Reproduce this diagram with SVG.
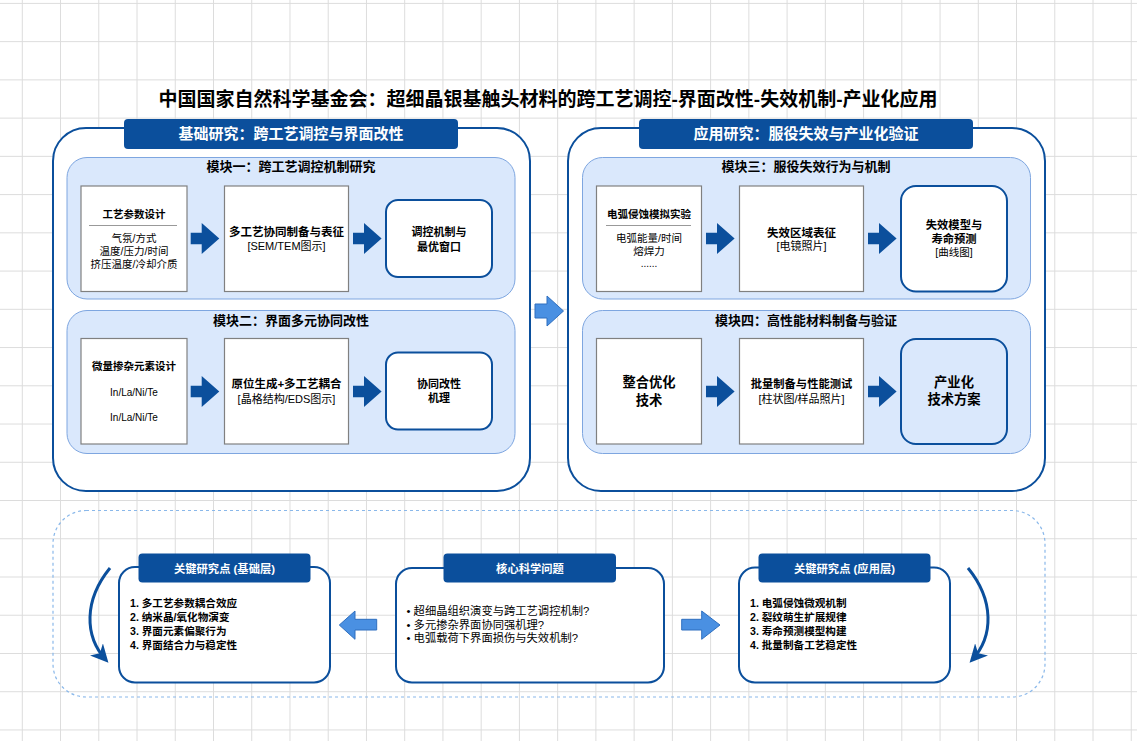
<svg xmlns="http://www.w3.org/2000/svg" width="1137" height="741" viewBox="0 0 1137 741">
<defs>
<pattern id="grid" patternUnits="userSpaceOnUse" x="21.8" y="2.9" width="38.24" height="38.24">
<path d="M0 0.5 H38.24 M0.5 0 V38.24" fill="none" stroke="#dcdcdc" stroke-width="1"/>
</pattern>
<path id="ba" d="M0,9.7 H11 V0 L28.6,15.5 L11,31 V21.3 H0 Z"/>
<marker id="ah" markerUnits="userSpaceOnUse" markerWidth="18" markerHeight="18" viewBox="0 0 10 10" refX="8" refY="5" orient="auto">
<path d="M0,0 L10,5 L0,10 L3,5 Z" fill="#0b4f9c"/>
</marker>
<style>
.t{font-family:"Liberation Sans","Noto Sans CJK SC",sans-serif;fill:#000}
.b{font-weight:bold}
.c{text-anchor:middle}
.w{fill:#fff}
.ctr{fill:#fff;stroke:#0b4f9c;stroke-width:2}
.hdr{fill:#0b4f9c}
.mod{fill:#dae8fc;stroke:#7ea6e0;stroke-width:1}
.box{fill:#fff;stroke:#808080;stroke-width:1.2}
.rbox{fill:#fff;stroke:#0b4f9c;stroke-width:2}
.arr{fill:#0b4f9c}
.larr{fill:#4a90e2;stroke:#2f6fbf;stroke-width:1}
.sep{stroke:#999;stroke-width:1}
.curve{fill:none;stroke:#0b4f9c;stroke-width:3;marker-end:url(#ah)}
</style>
</defs>
<rect width="1137" height="741" fill="#fff"/>
<rect width="1137" height="741" fill="url(#grid)"/>

<text class="t b c" x="548" y="106" font-size="19">中国国家自然科学基金会：超细晶银基触头材料的跨工艺调控-界面改性-失效机制-产业化应用</text>

<!-- Left container -->
<g id="basic-research">
<rect class="ctr" x="53" y="128" width="477" height="363" rx="33"/>
<rect class="hdr" x="124" y="119" width="334" height="30" rx="4"/>
<text class="t b c w" x="291" y="138.5" font-size="15">基础研究：跨工艺调控与界面改性</text>
</g>
<g id="module1">
<rect class="mod" x="67" y="157.5" width="448" height="141.5" rx="20"/>
<text class="t b c" x="291" y="171" font-size="13">模块一：跨工艺调控机制研究</text>
</g>
<g id="m1-a">
<rect class="box" x="81" y="186" width="106" height="105.5"/>
<text class="t b c" x="134" y="218" font-size="10.5">工艺参数设计</text>
<line class="sep" x1="89" y1="225.5" x2="177" y2="225.5"/>
<text class="t c" x="134" y="241.5" font-size="10.5">气氛/方式</text>
<text class="t c" x="134" y="254.5" font-size="10.5">温度/压力/时间</text>
<text class="t c" x="134" y="267.5" font-size="10.5">挤压温度/冷却介质</text>
</g>
<g id="m1-b">
<rect class="box" x="224.5" y="186" width="124" height="105.5"/>
<text class="t b c" x="286.5" y="236" font-size="11.5">多工艺协同制备与表征</text>
<text class="t c" x="286.5" y="250" font-size="11">[SEM/TEM图示]</text>
</g>
<g id="m1-c">
<rect class="rbox" x="386" y="200" width="106" height="77" rx="12"/>
<text class="t b c" x="439" y="236" font-size="11">调控机制与</text>
<text class="t b c" x="439" y="250.5" font-size="11">最优窗口</text>
</g>

<g id="module2">
<rect class="mod" x="67" y="310.5" width="448" height="143" rx="20"/>
<text class="t b c" x="291" y="324.5" font-size="13">模块二：界面多元协同改性</text>
</g>
<g id="m2-a">
<rect class="box" x="81" y="338.5" width="106" height="105.5"/>
<text class="t b c" x="134" y="369.5" font-size="10.5">微量掺杂元素设计</text>
<text class="t c" x="134" y="395.5" font-size="10" fill="#222">In/La/Ni/Te</text>
<text class="t c" x="134" y="420.5" font-size="10" fill="#222">In/La/Ni/Te</text>
</g>
<g id="m2-b">
<rect class="box" x="224.5" y="338.5" width="124" height="105.5"/>
<text class="t b c" x="286.5" y="388" font-size="11.5">原位生成+多工艺耦合</text>
<text class="t c" x="286.5" y="403" font-size="11">[晶格结构/EDS图示]</text>
</g>
<g id="m2-c">
<rect class="rbox" x="386" y="352.5" width="106" height="77" rx="12"/>
<text class="t b c" x="439" y="387.5" font-size="11">协同改性</text>
<text class="t b c" x="439" y="402" font-size="11">机理</text>
</g>

<!-- Right container -->
<g id="applied-research">
<rect class="ctr" x="568" y="128" width="477" height="363" rx="33"/>
<rect class="hdr" x="639" y="119" width="334" height="30" rx="4"/>
<text class="t b c w" x="806" y="138.5" font-size="15">应用研究：服役失效与产业化验证</text>
</g>
<g id="module3">
<rect class="mod" x="582.5" y="157.5" width="448" height="141.5" rx="20"/>
<text class="t b c" x="806" y="171" font-size="13">模块三：服役失效行为与机制</text>
</g>
<g id="m3-a">
<rect class="box" x="596.5" y="186" width="105" height="105.5"/>
<text class="t b c" x="649" y="218" font-size="10.5">电弧侵蚀模拟实验</text>
<line class="sep" x1="606" y1="225.5" x2="691" y2="225.5"/>
<text class="t c" x="649" y="242" font-size="10.5">电弧能量/时间</text>
<text class="t c" x="649" y="255" font-size="10.5">熔焊力</text>
<text class="t c" x="649" y="267" font-size="10">......</text>
</g>
<g id="m3-b">
<rect class="box" x="739.5" y="186" width="124" height="105.5"/>
<text class="t b c" x="801.5" y="236.5" font-size="11.5">失效区域表征</text>
<text class="t c" x="801.5" y="250" font-size="11">[电镜照片]</text>
</g>
<g id="m3-c">
<rect class="rbox" x="901" y="186" width="106" height="105.5" rx="15"/>
<text class="t b c" x="954" y="229" font-size="11.3">失效模型与</text>
<text class="t b c" x="954" y="243" font-size="11.3">寿命预测</text>
<text class="t c" x="954" y="256" font-size="10.5">[曲线图]</text>
</g>

<g id="module4">
<rect class="mod" x="582.5" y="310.5" width="448" height="143" rx="20"/>
<text class="t b c" x="806" y="324.5" font-size="13">模块四：高性能材料制备与验证</text>
</g>
<g id="m4-a">
<rect class="box" x="596.5" y="338.5" width="105" height="105.5"/>
<text class="t b c" x="649" y="387" font-size="13.3">整合优化</text>
<text class="t b c" x="649" y="405" font-size="13.3">技术</text>
</g>
<g id="m4-b">
<rect class="box" x="739.5" y="338.5" width="124" height="105.5"/>
<text class="t b c" x="801.5" y="388" font-size="11.3">批量制备与性能测试</text>
<text class="t c" x="801.5" y="403" font-size="11">[柱状图/样品照片]</text>
</g>
<g id="m4-c">
<rect x="901" y="339" width="106" height="105" rx="15" fill="#dae8fc" stroke="#0b4f9c" stroke-width="2"/>
<text class="t b c" x="954" y="387" font-size="13.3">产业化</text>
<text class="t b c" x="954" y="404" font-size="13.3">技术方案</text>
</g>

<!-- Bottom -->
<g id="bottom-frame">
<rect x="53" y="510.5" width="992" height="186.5" rx="33" fill="none" stroke="#8ab8ea" stroke-width="1.2" stroke-dasharray="3 3"/>
</g>
<g id="key-basic">
<rect class="rbox" x="119" y="567" width="211" height="115.5" rx="16"/>
<rect class="hdr" x="138.5" y="553.5" width="172" height="29" rx="4"/>
<text class="t b c w" x="224.5" y="572.5" font-size="11.3">关键研究点 (基础层)</text>
<text class="t b" x="130" y="607" font-size="10.6">1. 多工艺参数耦合效应</text>
<text class="t b" x="130" y="621" font-size="10.6">2. 纳米晶/氧化物演变</text>
<text class="t b" x="130" y="635" font-size="10.6">3. 界面元素偏聚行为</text>
<text class="t b" x="130" y="648.5" font-size="10.6">4. 界面结合力与稳定性</text>
</g>
<g id="core-question">
<rect class="rbox" x="396" y="568" width="268" height="114.5" rx="16"/>
<rect class="hdr" x="443.5" y="553.5" width="172.5" height="29" rx="4"/>
<text class="t b c w" x="530" y="572.5" font-size="11.3">核心科学问题</text>
<text class="t" x="406.5" y="615" font-size="11.3">• 超细晶组织演变与跨工艺调控机制?</text>
<text class="t" x="406.5" y="628.5" font-size="11.3">• 多元掺杂界面协同强机理?</text>
<text class="t" x="406.5" y="642" font-size="11.3">• 电弧载荷下界面损伤与失效机制?</text>
</g>
<g id="key-applied">
<rect class="rbox" x="739" y="567.5" width="211" height="115" rx="16"/>
<rect class="hdr" x="758.5" y="553.5" width="172" height="29" rx="4"/>
<text class="t b c w" x="844.5" y="572.5" font-size="11.3">关键研究点 (应用层)</text>
<text class="t b" x="750" y="607" font-size="10.6">1. 电弧侵蚀微观机制</text>
<text class="t b" x="750" y="621" font-size="10.6">2. 裂纹萌生扩展规律</text>
<text class="t b" x="750" y="635" font-size="10.6">3. 寿命预测模型构建</text>
<text class="t b" x="750" y="648.5" font-size="10.6">4. 批量制备工艺稳定性</text>
</g>

<g id="connectors">
<use href="#ba" class="arr" x="190.7" y="223"/>
<use href="#ba" class="arr" x="353" y="223"/>
<use href="#ba" class="arr" x="190.7" y="376"/>
<use href="#ba" class="arr" x="353" y="376"/>
<use href="#ba" class="arr" x="706" y="223"/>
<use href="#ba" class="arr" x="868" y="223"/>
<use href="#ba" class="arr" x="706" y="376"/>
<use href="#ba" class="arr" x="868" y="376"/>
<path class="larr" d="M535,304 H547 V296 L563.5,311 L547,326 V318 H535 Z"/>
<path class="larr" d="M376.7,619.3 H355 V611 L339.3,625 L355,639.3 V630 H376.7 Z"/>
<path class="larr" d="M681.7,619.3 H701.7 V611 L720,625 L701.7,639.3 V630 H681.7 Z"/>
<path class="curve" d="M110,568 C84,600 84,636 106,660"/>
<path class="curve" d="M968,568 C994,600 994,636 972,660"/>
</g>
</svg>
